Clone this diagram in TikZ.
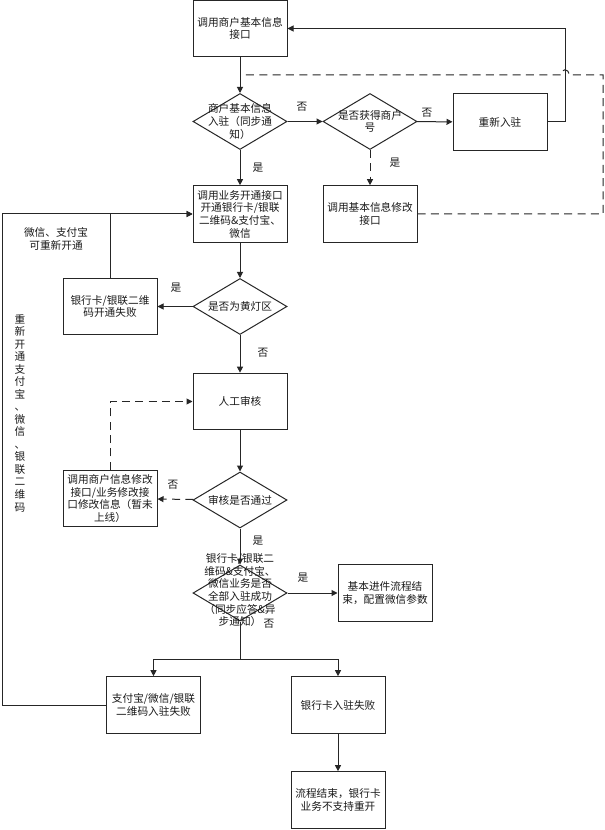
\documentclass[tikz,border=0pt]{standalone}
\usepackage{fontspec}
\newfontfamily\cjk{Noto Sans CJK SC}
\usepackage{xcolor}
\usetikzlibrary{arrows.meta, positioning, shapes.geometric}
\definecolor{fcLine}{HTML}{262626}
\definecolor{fcText}{HTML}{1A1A1A}
\tikzset{
  fc-box/.style={
    rectangle, draw=fcLine, line width=0.75pt, fill=white,
    minimum width=70.5pt, minimum height=42.5pt, inner sep=1pt,
    align=center, text=fcText, font=\cjk\fontsize{8}{9.5}\selectfont
  },
  fc-dec/.style={
    diamond, draw=fcLine, line width=0.75pt,
    minimum width=70.5pt, minimum height=42pt, inner sep=0pt
  },
  fc-text/.style={
    align=center, inner sep=0pt, text=fcText,
    font=\cjk\fontsize{8}{9.5}\selectfont
  },
  fc-flow/.style={-{Triangle[length=4.5pt,width=4.5pt]}, line width=0.75pt, draw=fcLine},
  fc-dash/.style={fc-flow, dash pattern=on 6pt off 4pt},
  fc-dash-line/.style={line width=0.75pt, draw=fcLine, dash pattern=on 6pt off 4pt},
}

\begin{document}
\begin{tikzpicture}[x=0.75pt, y=-0.75pt]
  \fill[white] (0,0) rectangle (605,830);
  \useasboundingbox (0,0) rectangle (605,830);

  % main column
  \node[fc-box] (info)  at (240,28.5) {调用商户基本信息\\接口};
  \node[fc-dec, label={[fc-text]center:{商户基本信息\\入驻（同步通\\知）}}]
                                          (sync)  at (240,121.5) {};
  \node[fc-dec, label={[fc-text]center:{是否获得商户\\号}}]
                                          (haveid) at (370,121.5) {};
  \node[fc-box] (rejoin) at (500,122) {重新入驻};
  \node[fc-box] (modify) at (370,214) {调用基本信息修改\\接口};
  \node[fc-box] (open)   at (240,214) {调用业务开通接口\\开通银行卡/银联\\二维码\&支付宝、\\微信};
  \node[fc-dec, label={[fc-text]center:{是否为黄灯区}}]
                                          (yellow) at (240,306.5) {};
  \node[fc-box] (cardfail) at (110,306.5) {银行卡/银联二维\\码开通失败};
  \node[fc-box] (review) at (240,401.5) {人工审核};
  \node[fc-dec, label={[fc-text]center:{审核是否通过}}]
                                          (pass)   at (240,500) {};
  \node[fc-box] (edit)   at (110,498.5) {调用商户信息修改\\接口/业务修改接\\口修改信息（暂未\\上线）};
  \node[fc-dec, label={[fc-text, yshift=2pt]center:{银行卡/银联二\\维码\&支付宝、\\微信业务是否\\全部入驻成功\\（同步应答\&异\\步通知）}}]
                                          (allok)  at (240,593) {};
  \node[fc-box] (done)   at (385,593) {基本进件流程结\\束，配置微信参数};
  \node[fc-box] (qrfail) at (153.5,705) {支付宝/微信/银联\\二维码入驻失败};
  \node[fc-box] (bankfail) at (338,705) {银行卡入驻失败};
  \node[fc-box] (bankend) at (338,800) {流程结束，银行卡\\业务不支持重开};

  % notes
  \node[fc-text] (note1) at (56,239) {微信、支付宝\\可重新开通};
  \node[fc-text, font=\cjk\fontsize{8}{9.4}\selectfont] (note2) at (20,413)
    {重\\新\\开\\通\\支\\付\\宝\\、\\微\\信\\、\\银\\联\\二\\维\\码};

  % yes / no
  \node[fc-text] (no1)  at (302,107) {否};
  \node[fc-text] (no2)  at (427,113) {否};
  \node[fc-text] (yes1) at (395,163) {是};
  \node[fc-text] (yes2) at (258,168) {是};
  \node[fc-text] (yes3) at (176,288) {是};
  \node[fc-text] (no3)  at (263,353) {否};
  \node[fc-text] (no4)  at (173,485) {否};
  \node[fc-text] (yes4) at (258,541) {是};
  \node[fc-text] (yes5) at (303,578) {是};
  \node[fc-text] (no5)  at (269,624) {否};

  \coordinate (merge) at (240,75);
  \coordinate (split) at (240,659);

  \draw[fc-flow] (info) -- (sync);
  \draw[fc-flow] (sync) -- (haveid);
  \draw[fc-flow] (haveid) -- (rejoin);
  \draw[fc-flow] (rejoin.east) -- ++(18,0) |- (info.east);
  \draw[fc-dash] (haveid) -- (modify);
  \draw[fc-dash-line] (modify.east) -- (603,214) -- (603,75) -- (569,75)
    .. controls (569,68) and (561,68) .. (561,75) -- (merge);
  \draw[fc-flow] (sync) -- (open);
  \draw[fc-flow] (open) -- (yellow);
  \draw[fc-flow] (yellow) -- (cardfail);
  \draw[fc-flow] (cardfail.north) |- (open.west);
  \draw[fc-flow] (qrfail.west) -- (2,705) |- (open.west);
  \draw[fc-flow] (yellow) -- (review);
  \draw[fc-flow] (review) -- (pass);
  \draw[fc-dash] (pass) -- (edit);
  \draw[fc-dash] (edit.north) |- (review.west);
  \draw[fc-flow] (pass) -- (allok);
  \draw[fc-flow] (allok) -- (done);
  \draw[line width=0.75pt, draw=fcLine] (allok.south) -- (split);
  \draw[fc-flow] (split) -| (qrfail.north);
  \draw[fc-flow] (split) -| (bankfail.north);
  \draw[fc-flow] (bankfail) -- (bankend);
\end{tikzpicture}
\end{document}
